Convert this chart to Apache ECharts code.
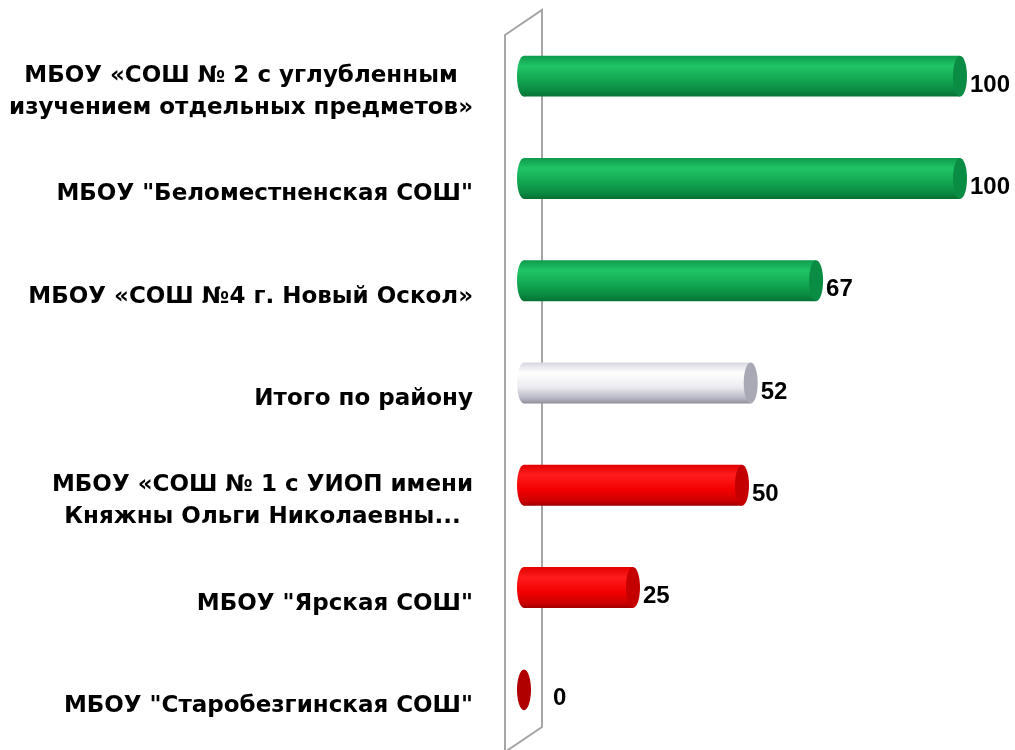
<!DOCTYPE html>
<html>
<head>
<meta charset="utf-8">
<script src="https://cdn.jsdelivr.net/npm/echarts@6/dist/echarts.min.js"></script>
<style>
  html, body { margin: 0; padding: 0; background: #fff; }
  #chart { width: 1015px; height: 750px; }
</style>
</head>
<body>
<div id="chart"></div>
<script>
// категории сверху вниз
var schoolNames = [
  'МБОУ «СОШ № 2 с углубленным\nизучением отдельных предметов»',
  'МБОУ "Беломестненская СОШ"',
  'МБОУ «СОШ №4 г. Новый Оскол»',
  'Итого по району',
  'МБОУ «СОШ № 1 с УИОП имени\nКняжны Ольги Николаевны...',
  'МБОУ "Ярская СОШ"',
  'МБОУ "Старобезгинская СОШ"'
];
var percentValues = [100, 100, 67, 52, 50, 25, 0];
var barColorKeys = ['green', 'green', 'green', 'grey', 'red', 'red', 'red'];

var palettes = {
  green: {
    body: [[0, '#0e9a4c'], [0.25, '#20c466'], [0.55, '#14aa54'], [0.85, '#0a8a42'], [1, '#067033']],
    cap: '#0b8c45'
  },
  grey: {
    body: [[0, '#d6d6e0'], [0.25, '#ffffff'], [0.6, '#ebebf1'], [0.88, '#b6b6c2'], [1, '#8e8e9a']],
    cap: '#a9a9b6'
  },
  red: {
    body: [[0, '#e20000'], [0.25, '#ff1c1c'], [0.6, '#f40000'], [0.88, '#cc0000'], [1, '#a00000']],
    cap: '#c40000'
  }
};

function grad(stops) {
  return new echarts.graphic.LinearGradient(0, 0, 0, 1, stops.map(function (s) {
    return { offset: s[0], color: s[1] };
  }));
}

var chart = echarts.init(document.getElementById('chart'));

function renderCylinder(params, api) {
  var idx = api.value(0);
  var val = api.value(1);
  var start = api.coord([0, idx]);
  var end = api.coord([val, idx]);
  var h = api.size([0, 1])[1] * 0.4;
  var ry = h / 2;
  var rx = 7;
  var cy = start[1];
  var pal = palettes[barColorKeys[idx]];
  var children = [];
  var labelX = Math.max(end[0] + rx + 3, start[0] + 29);

  if (val > 0) {
    children.push({
      type: 'ellipse',
      shape: { cx: start[0], cy: cy, rx: rx, ry: ry },
      style: { fill: grad(pal.body) }
    });
    children.push({
      type: 'rect',
      shape: { x: start[0], y: cy - ry, width: end[0] - start[0], height: h },
      style: { fill: grad(pal.body) }
    });
    children.push({
      type: 'ellipse',
      shape: { cx: end[0], cy: cy, rx: rx, ry: ry },
      style: { fill: pal.cap }
    });
  } else {
    children.push({
      type: 'ellipse',
      shape: { cx: start[0], cy: cy, rx: rx, ry: ry },
      style: { fill: '#b00000' }
    });
  }
  children.push({
    type: 'text',
    style: {
      x: labelX, y: cy + 9,
      text: String(val),
      fill: '#000',
      font: 'bold 24px "Liberation Sans", Arial, sans-serif',
      textAlign: 'left',
      textVerticalAlign: 'middle'
    }
  });
  return { type: 'group', children: children };
}

var option = {
  animation: false,
  backgroundColor: '#fff',
  grid: { left: 524, right: 55, top: 25, bottom: 9 },
  xAxis: {
    type: 'value',
    min: 0,
    max: 100,
    show: false
  },
  yAxis: {
    type: 'category',
    inverse: true,
    data: schoolNames,
    axisLine: { show: false },
    axisTick: { show: false },
    splitLine: { show: false },
    axisLabel: {
      margin: 51,
      padding: [32, 0, 0, 0],
      align: 'right',
      formatter: function (v) {
        return v.split('\n').map(function (l) { return '{c|' + l + '}'; }).join('\n');
      },
      rich: {
        c: {
          align: 'center',
          fontFamily: '"DejaVu Sans", sans-serif',
          fontWeight: 'bold',
          fontSize: 23,
          lineHeight: 32,
          color: '#000'
        }
      }
    }
  },
  graphic: [{
    type: 'polyline',
    z: -10,
    shape: { points: [[505, 752], [505, 35], [542, 10], [542, 727], [505, 752]] },
    style: { stroke: '#a6a6a6', lineWidth: 2, fill: null }
  }],
  series: [{
    type: 'custom',
    renderItem: renderCylinder,
    encode: { x: 1, y: 0 },
    data: percentValues.map(function (v, i) { return [i, v]; })
  }]
};

chart.setOption(option);
</script>
</body>
</html>
